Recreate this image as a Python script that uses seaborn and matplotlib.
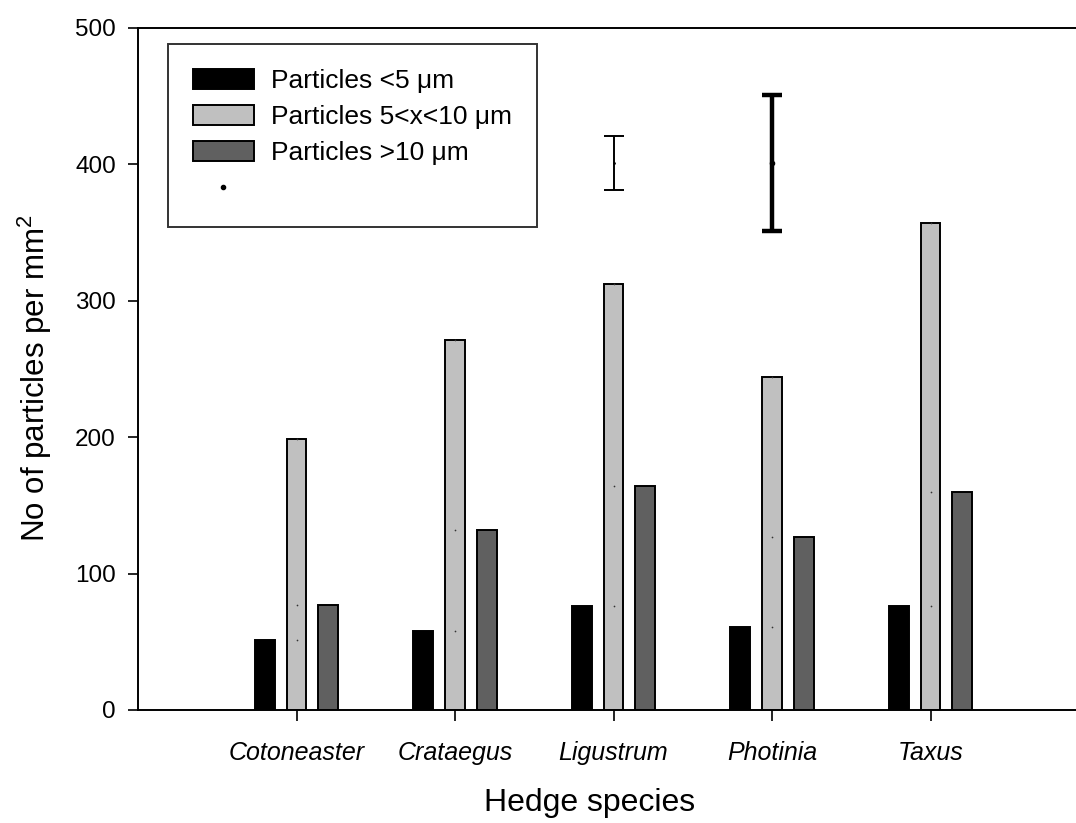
import matplotlib
matplotlib.use('Agg')
import matplotlib.pyplot as plt
import matplotlib.patches as mpatches
from matplotlib.lines import Line2D
import seaborn as sns
import pandas as pd
import numpy as np

# --- datos ---
species = ['Cotoneaster', 'Crataegus', 'Ligustrum', 'Photinia', 'Taxus']
size_classes = ['Particles <5 \u03bcm', 'Particles 5<x<10 \u03bcm', 'Particles >10 \u03bcm']
small = [51, 58, 76, 61, 76]
medium = [199, 271, 312, 244, 357]
large = [77, 132, 164, 127, 160]

# barras de error de referencia (Ligustrum, Photinia)
err_species = ['Ligustrum', 'Photinia']
err_mean = [401, 401]
err_sd = [20, 50]

bar_colors = ['#000000', '#c0c0c0', '#606060']

sns.set_style('white')
plt.rcParams['font.family'] = ['Liberation Sans', 'DejaVu Sans']
plt.rcParams['mathtext.fontset'] = 'custom'
plt.rcParams['mathtext.rm'] = 'Liberation Sans'
plt.rcParams['text.color'] = 'black'
plt.rcParams['axes.labelcolor'] = 'black'
plt.rcParams['xtick.color'] = 'black'
plt.rcParams['ytick.color'] = 'black'

df = pd.DataFrame({
    'species': species * 3,
    'size': [size_classes[0]] * 5 + [size_classes[1]] * 5 + [size_classes[2]] * 5,
    'count': small + medium + large,
})

fig = plt.figure(figsize=(10.76, 8.23), dpi=100)
ax = fig.add_axes([138 / 1076, 1 - 710 / 823, (1089 - 138) / 1076, 682 / 823])

sns.barplot(data=df, x='species', y='count', hue='size', order=species,
            hue_order=size_classes, palette=bar_colors, width=0.6, gap=0.37,
            edgecolor='black', linewidth=1.4, legend=False, ax=ax)

# puntitos del grafico original (simbolos dentro de las barras claras)
pos = np.arange(len(species))
ax.scatter(np.concatenate([pos, pos, pos]), small + large + medium,
           s=1.5, color='#333333', zorder=5, linewidths=0)

# barras de error
xe = [species.index(s) for s in err_species]
ax.errorbar(xe[0], err_mean[0], yerr=err_sd[0], fmt='.', color='black',
            markersize=2, elinewidth=1.4, capsize=7, capthick=1.4)
ax.errorbar(xe[1], err_mean[1], yerr=err_sd[1], fmt='.', color='black',
            markersize=6, elinewidth=3.2, capsize=7.5, capthick=3.2)

ax.set_xlim(-1, 5)
ax.set_ylim(0, 500)
ax.set_yticks([0, 100, 200, 300, 400, 500])

for side in ['left', 'bottom', 'top']:
    ax.spines[side].set_linewidth(1.4)
    ax.spines[side].set_color('black')
ax.spines['right'].set_visible(False)

ax.tick_params(axis='y', direction='out', length=7, width=1.2, pad=9,
               labelsize=17.5, left=True)
ax.tick_params(axis='x', direction='out', length=8, width=1.2, pad=14,
               labelsize=18, bottom=True)
for lab in ax.get_xticklabels():
    lab.set_fontstyle('italic')

ax.set_xlabel('Hedge species', fontsize=23, va='top')
ax.set_ylabel('No of particles per mm$^2$', fontsize=22.5)
ax.xaxis.set_label_coords(0.475, -0.115)
ax.yaxis.set_label_coords(-0.088, 0.487)

handles = [mpatches.Patch(facecolor=c, edgecolor='black', linewidth=1.4) for c in bar_colors]
handles.append(Line2D([], [], marker='.', color='black', linestyle='none', markersize=6))
labels = size_classes + ['']
leg = ax.legend(handles, labels, loc='upper left', bbox_to_anchor=(0.0315, 0.9765),
                borderaxespad=0, fontsize=19, frameon=True, fancybox=False,
                handlelength=2.3, handleheight=0.76, handletextpad=0.65,
                labelspacing=0.46, borderpad=0.95)
leg.get_frame().set_edgecolor('black')
leg.get_frame().set_linewidth(1.4)

fig.savefig('out.png', dpi=100)
